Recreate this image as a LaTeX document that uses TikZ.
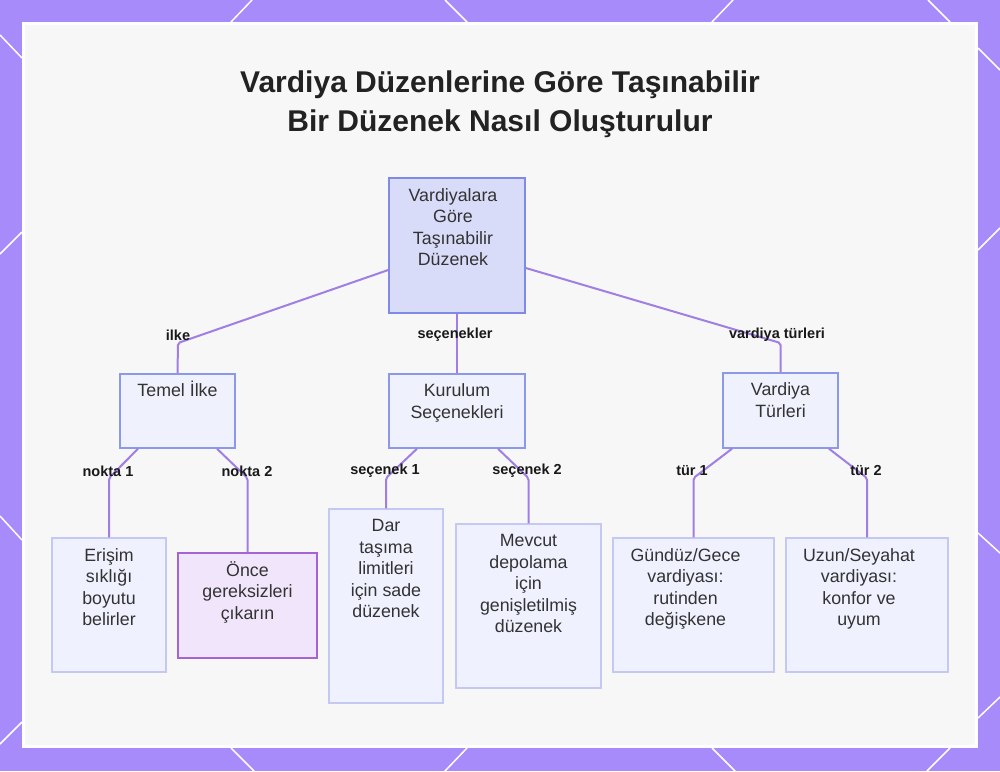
\documentclass[tikz,border=0pt]{standalone}
\usepackage{fontspec}
\setmainfont{Liberation Sans}
\usetikzlibrary{calc}
\definecolor{bgpurple}{HTML}{A78BFA}
\definecolor{panelfill}{HTML}{F7F7F8}
\definecolor{edgecol}{HTML}{A07EE4}
\definecolor{rootfill}{HTML}{D9DCF9}
\definecolor{rootdraw}{HTML}{7F8AE6}
\definecolor{midfill}{HTML}{EFF1FD}
\definecolor{middraw}{HTML}{8C98E8}
\definecolor{leaffill}{HTML}{EFF1FE}
\definecolor{leafdraw}{HTML}{C3C9F2}
\definecolor{hlfill}{HTML}{F1E5FB}
\definecolor{hldraw}{HTML}{A563D6}
\definecolor{titlecol}{HTML}{222222}
\definecolor{textcol}{HTML}{333333}
\newcommand\fs{\rule{0pt}{16pt}}
\begin{document}
\begin{tikzpicture}[x=1pt,y=-1pt,
  boxbase/.style={rectangle, inner sep=0pt, line width=1.5pt},
  rootbox/.style={boxbase, fill=rootfill, draw=rootdraw},
  midbox/.style={boxbase, fill=midfill, draw=middraw},
  leafbox/.style={boxbase, fill=leaffill, draw=leafdraw},
  hlbox/.style={boxbase, fill=hlfill, draw=hldraw},
  txt/.style={anchor=north, inner sep=0pt, align=center, text=textcol,
    font=\fontsize{17.8}{21.5}\selectfont},
  elabel/.style={inner sep=0pt, text=black!90, font=\bfseries\fontsize{14.5}{17}\selectfont},
  edge/.style={draw=edgecol, line width=2pt, rounded corners=2pt},
  deco/.style={draw=white, line width=1.5pt}
]
\useasboundingbox (0,0) rectangle (1000,771);
\fill[bgpurple] (0,0) rectangle (1000,771);
% decorative white lines in the border
\draw[deco] (231,22)--(252,0) (445,0)--(467,22) (733,0)--(712,22) (928,0)--(950,22);
\draw[deco] (231,748)--(254,771) (467,748)--(445,771) (712,748)--(735,771) (950,748)--(927,771);
\draw[deco] (0,35)--(22,58) (22,232)--(0,254) (0,516)--(22,540) (22,722)--(0,744);
\draw[deco] (978,48)--(1000,70) (1000,228)--(978,250) (978,533)--(1000,553) (1000,697)--(978,718);
% panel
\fill[white] (22,22) rectangle (978,748);
\fill[panelfill] (25,25) rectangle (975,745);

% title
\node[anchor=north, inner sep=0pt, align=center, text=titlecol,
  font=\bfseries\fontsize{30}{38.5}\selectfont] (title) at (500,68.7)
  {\rule{0pt}{24pt}Vardiya Düzenlerine Göre Taşınabilir\\Bir Düzenek Nasıl Oluşturulur};

% boxes
\node[rootbox, minimum width=136pt, minimum height=135pt] (root) at (457,245.5) {};
\node[midbox, minimum width=115pt, minimum height=74pt] (temel) at (177.5,411) {};
\node[midbox, minimum width=136pt, minimum height=74pt] (kurulum) at (457,411) {};
\node[midbox, minimum width=115pt, minimum height=75pt] (vardiya) at (780.5,410.5) {};
\node[leafbox, minimum width=114pt, minimum height=134pt] (erisim) at (109,605) {};
\node[hlbox, minimum width=139pt, minimum height=105pt] (once) at (247.5,605.5) {};
\node[leafbox, minimum width=114pt, minimum height=194pt] (dar) at (386,606) {};
\node[leafbox, minimum width=145pt, minimum height=164pt] (mevcut) at (528.5,606) {};
\node[leafbox, minimum width=161pt, minimum height=134pt] (gunduz) at (693.5,605) {};
\node[leafbox, minimum width=162pt, minimum height=134pt] (uzun) at (867,605) {};

% box texts
\node[txt] (rootT) at ([yshift=-8pt,xshift=-4pt]root.north) {\fs Vardiyalara\\Göre\\Taşınabilir\\Düzenek};
\node[txt] (temelT) at ([yshift=-7pt]temel.north) {\fs Temel İlke};
\node[txt] (kurulumT) at ([yshift=-7.5pt]kurulum.north) {\fs Kurulum\\Seçenekleri};
\node[txt] (vardiyaT) at ([yshift=-7.5pt]vardiya.north) {\fs Vardiya\\Türleri};
\node[txt] (erisimT) at ([yshift=-8pt]erisim.north) {\fs Erişim\\sıklığı\\boyutu\\belirler};
\node[txt] (onceT) at ([yshift=-8pt]once.north) {\fs Önce\\gereksizleri\\çıkarın};
\node[txt] (darT) at ([yshift=-7.5pt]dar.north) {\fs Dar\\taşıma\\limitleri\\için sade\\düzenek};
\node[txt] (mevcutT) at ([yshift=-7.5pt]mevcut.north) {\fs Mevcut\\depolama\\için\\genişletilmiş\\düzenek};
\node[txt] (gunduzT) at ([yshift=-8pt,xshift=-8pt]gunduz.north) {\fs Gündüz/Gece\\vardiyası:\\rutinden\\değişkene};
\node[txt] (uzunT) at ([yshift=-8pt,xshift=-8pt]uzun.north) {\fs Uzun/Seyahat\\vardiyası:\\konfor ve\\uyum};

% connectors
\coordinate (b1) at (178,343);
\coordinate (b3) at (780.5,343);
\draw[edge] ([yshift=-24.5pt]root.west) -- (b1) -- (temel.north);
\draw[edge] (root.south) -- (kurulum.north);
\draw[edge] ([yshift=-22.5pt]root.east) -- (b3) -- (vardiya.north);

\coordinate (c1) at (109,478);
\coordinate (c2) at (247.5,478);
\coordinate (c3) at (386,478);
\coordinate (c4) at (528.5,478);
\coordinate (c5) at (693.5,478);
\coordinate (c6) at (867,478);
\draw[edge] ([xshift=-39.5pt]temel.south) -- (c1) -- (erisim.north);
\draw[edge] ([xshift=39.5pt]temel.south) -- (c2) -- (once.north);
\draw[edge] ([xshift=-40pt]kurulum.south) -- (c3) -- (dar.north);
\draw[edge] ([xshift=41pt]kurulum.south) -- (c4) -- (mevcut.north);
\draw[edge] ([xshift=-48.5pt]vardiya.south) -- (c5) -- (gunduz.north);
\draw[edge] ([xshift=48.5pt]vardiya.south) -- (c6) -- (uzun.north);

% edge labels
\node[elabel] (l1) at (178,335) {ilke};
\node[elabel] (l2) at (455,335) {seçenekler};
\node[elabel] (l3) at (777,335) {vardiya türleri};
\node[elabel] (l4) at (108,471) {nokta 1};
\node[elabel] (l5) at (247,471) {nokta 2};
\node[elabel] (l6) at (385,471) {seçenek 1};
\node[elabel] (l7) at (527,471) {seçenek 2};
\node[elabel] (l8) at (692,471) {tür 1};
\node[elabel] (l9) at (866,471) {tür 2};
\end{tikzpicture}
\end{document}
